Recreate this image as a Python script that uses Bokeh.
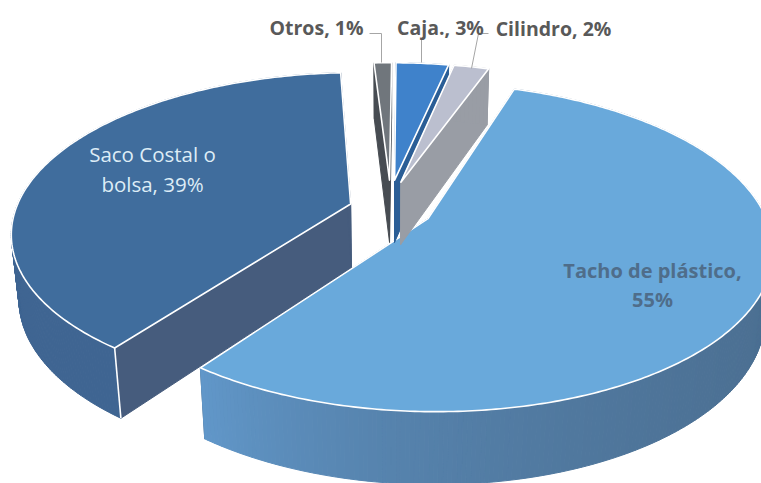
import numpy as np
from bokeh.plotting import figure
from bokeh.models import Range1d
from bokeh.core.properties import value
from bokeh.embed import file_html
from bokeh.resources import INLINE

# data, clockwise from the first slice's start angle
categories = ["Tacho de plástico", "Saco Costal o bolsa", "Otros", "Caja.", "Cilindro"]
values = [55, 39, 1, 3, 2]

# styles per slice
top_colors = ["#69A9DB", "#406D9D", "#70767C", "#3F82CB", "#BBBFCF"]
side_colors = ["#45617F", "#465C7D", "#474C52", "#2B5E96", "#999DA5"]
wall_a = ["#4A6D8F", "#3F6592", "#474C52", "#2B5E96", "#999DA5"]
wall_b = ["#6197C9", "#3E5E84", "#474C52", "#2B5E96", "#999DA5"]

# projection layout
W, H = 761, 483
CX, CY, RX, RY, DEPTH = 390.0, 209.0, 335.0, 156.0, 65.0
PERSP, ZP, EXPL = 0.174, 0.02, 0.125
START = 71.6
apex_lift = [0, 0, 0.07, 0.07, 0.06]


def proj(u, v, z):
    d = 1 + PERSP * v + ZP * z
    return CX + RX * u / d, CY - RY * v / d + DEPTH * z / d


def mix(c1, c2, t):
    a = [int(c1[i:i + 2], 16) for i in (1, 3, 5)]
    b = [int(c2[i:i + 2], 16) for i in (1, 3, 5)]
    return "#%02x%02x%02x" % tuple(int(round(x + (y - x) * t)) for x, y in zip(a, b))


p = figure(width=W, height=H, x_range=Range1d(0, W), y_range=Range1d(H, 0),
           output_backend="svg", toolbar_location=None, min_border=0)
p.axis.visible = False
p.grid.visible = False
p.outline_line_color = None

theta = START
for i, val in enumerate(values):
    sweep = val * 3.6
    t0, t1 = theta, theta - sweep
    theta = t1
    mid = np.radians((t0 + t1) / 2)
    ox, oy = EXPL * np.cos(mid), EXPL * np.sin(mid)
    ay0 = oy + apex_lift[i]
    ang = np.radians(np.linspace(t0, t1, max(int(sweep * 1.5), 4)))
    u = ox + np.cos(ang)
    v = oy + np.sin(ang)
    # radial faces
    for a in (t0, t1):
        ua, va = ox + np.cos(np.radians(a)), oy + np.sin(np.radians(a))
        q = [proj(ox, ay0, 0), proj(ua, va, 0), proj(ua, va, 1), proj(ox, ay0, 1)]
        p.patch([c[0] for c in q], [c[1] for c in q], fill_color=side_colors[i],
                line_color=side_colors[i], line_width=1)
    # outer wall
    xs, ys, cols = [], [], []
    n = len(ang)
    for k in range(n - 1):
        q = [proj(u[k], v[k], 0), proj(u[k + 1], v[k + 1], 0),
             proj(u[k + 1], v[k + 1], 1), proj(u[k], v[k], 1)]
        xs.append([c[0] for c in q])
        ys.append([c[1] for c in q])
        cols.append(mix(wall_a[i], wall_b[i], (k / max(n - 2, 1)) ** 4))
    p.patches(xs, ys, fill_color=cols, line_color=cols, line_width=1)
    # corner highlight
    if i == 1:
        a, b = proj(u[0], v[0], 0), proj(u[0], v[0], 1)
        p.line([a[0], b[0]], [a[1], b[1]], line_color="white", line_width=1.6)
    # top face
    tx, ty = proj(u, v, 0)
    ax, ay = proj(ox, ay0, 0)
    p.patch([ax, *tx], [ay, *ty], fill_color=top_colors[i], line_color="white",
            line_width=1.6, line_join="round")

# leader lines
leader_x = [[381, 381, 369], [421, 421], [471, 478, 488]]
leader_y = [[62, 33, 33], [62, 38], [68, 33, 33]]
p.multi_line(leader_x, leader_y, line_color="#A6A6A6", line_width=1)

# labels
out_text = [f"{categories[j]}, {values[j]}%" for j in (2, 3, 4)]
p.text([316, 440, 553], [27, 27, 28], text=out_text, text_font=value("Open Sans"),
       text_font_style="bold", text_font_size="19.5px", text_color="#595959",
       text_align="center", text_baseline="middle")
p.text([652, 652], [270, 299], text=[categories[0] + ",", f"{values[0]}%"],
       text_font=value("Open Sans"), text_font_style="bold", text_font_size="20px",
       text_color="#4F6D8A", text_align="center", text_baseline="middle")
p.text([152, 152], [153, 183], text=["Saco Costal o", f"bolsa, {values[1]}%"],
       text_font=value("Open Sans"), text_font_size="20.5px", text_font_style="normal",
       text_color="#DDECF6", text_align="center", text_baseline="middle")

open("out.html", "w").write(file_html(p, INLINE))
